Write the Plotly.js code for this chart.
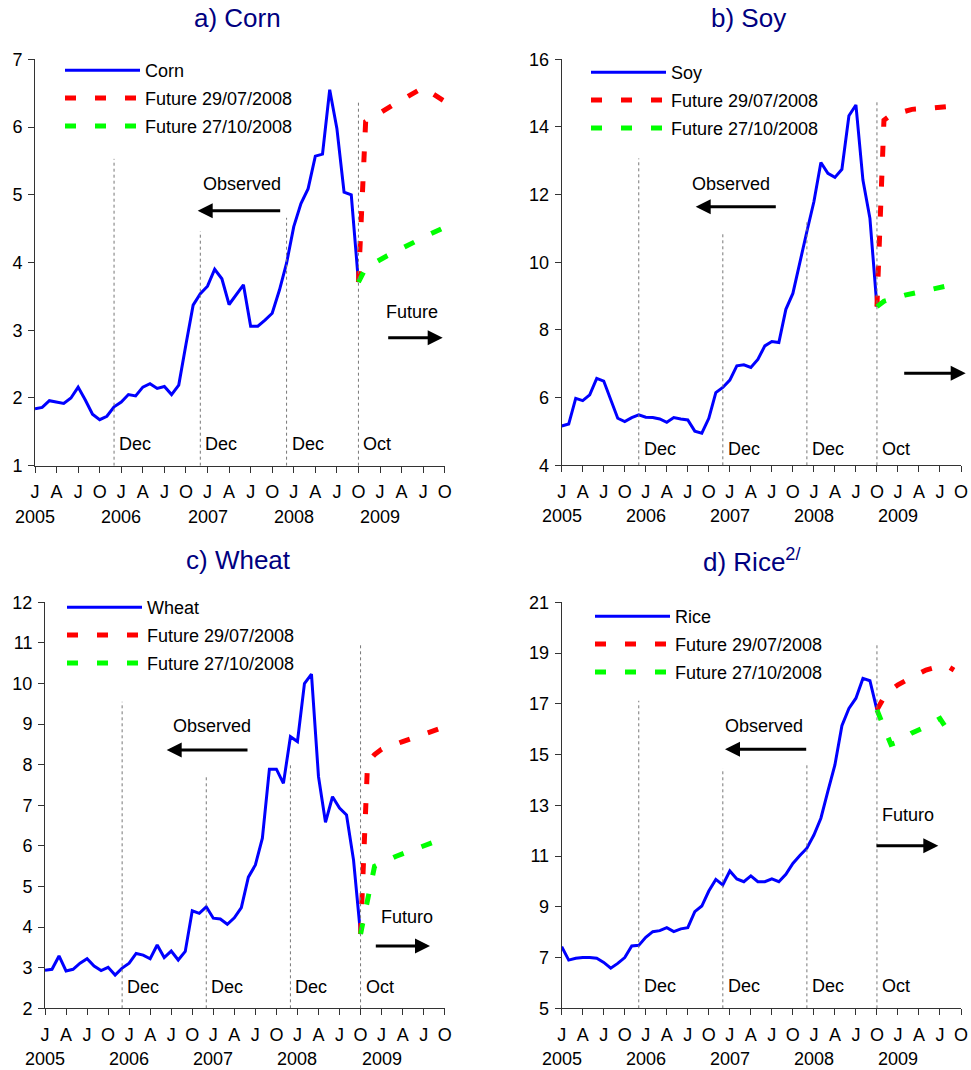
<!DOCTYPE html>
<html><head><meta charset="utf-8">
<script src="https://cdn.plot.ly/plotly-3.0.1.min.js"></script>
<style>html,body{margin:0;padding:0;background:#fff}</style>
</head><body><div id="chart" style="width:971px;height:1070px"></div>
<script>
// ---------- DATA ----------
const obsMonths = ['2005-01','2005-02','2005-03','2005-04','2005-05','2005-06','2005-07','2005-08','2005-09','2005-10','2005-11','2005-12',
  '2006-01','2006-02','2006-03','2006-04','2006-05','2006-06','2006-07','2006-08','2006-09','2006-10','2006-11','2006-12',
  '2007-01','2007-02','2007-03','2007-04','2007-05','2007-06','2007-07','2007-08','2007-09','2007-10','2007-11','2007-12',
  '2008-01','2008-02','2008-03','2008-04','2008-05','2008-06','2008-07','2008-08','2008-09','2008-10'];

const cornObs = [1.84,1.86,1.96,1.94,1.92,2.00,2.16,1.97,1.76,1.68,1.73,1.87,
  1.94,2.05,2.03,2.16,2.21,2.14,2.17,2.05,2.19,2.79,3.37,3.54,
  3.65,3.90,3.76,3.38,3.52,3.67,3.06,3.06,3.15,3.25,3.59,3.99,
  4.53,4.87,5.09,5.57,5.60,6.55,5.98,5.04,5.00,3.71];
const soyObs = [5.16,5.22,5.98,5.91,6.08,6.57,6.49,5.93,5.39,5.29,5.41,5.49,
  5.42,5.41,5.37,5.27,5.41,5.37,5.34,5.01,4.95,5.39,6.15,6.30,
  6.52,6.94,6.97,6.89,7.13,7.53,7.66,7.63,8.61,9.08,10.02,10.91,
  11.79,12.95,12.63,12.51,12.75,14.33,14.65,12.43,11.30,8.69];
const wheatObs = [2.94,2.96,3.29,2.92,2.96,3.11,3.22,3.04,2.93,3.01,2.82,2.99,
  3.11,3.35,3.31,3.22,3.56,3.25,3.41,3.19,3.40,4.40,4.34,4.50,
  4.22,4.20,4.07,4.23,4.48,5.23,5.53,6.19,7.89,7.89,7.54,8.69,
  8.57,10.00,10.23,7.71,6.58,7.21,6.93,6.76,5.65,3.83];
const riceObs = [7.43,6.90,6.97,7.00,7.00,6.97,6.81,6.58,6.77,7.00,7.46,7.48,
  7.80,8.02,8.06,8.18,8.02,8.13,8.18,8.81,9.03,9.62,10.08,9.86,
  10.41,10.10,9.99,10.22,9.99,9.99,10.10,9.99,10.28,10.71,11.02,11.31,
  11.83,12.49,13.56,14.59,16.14,16.82,17.22,18.00,17.91,16.76];

// Futures (29/07/2008 = red, 27/10/2008 = green)
const cornFutJulMonths = ['2008-10','2008-11','2009-03','2009-05','2009-07','2009-10'];
const cornFutJul = [3.71,6.08,6.34,6.46,6.58,6.38];
const cornFutOctMonths = ['2008-10','2008-11','2009-02','2009-05','2009-08','2009-10'];
const cornFutOct = [3.71,3.92,4.10,4.27,4.42,4.52];

const soyFutJulMonths = ['2008-10','2008-11','2008-12','2009-03','2009-06','2009-08','2009-09'];
const soyFutJul = [8.69,14.20,14.35,14.52,14.56,14.60,14.45];
const soyFutOctMonths = ['2008-10','2008-11','2009-02','2009-05','2009-08'];
const soyFutOct = [8.69,8.85,9.03,9.17,9.30];

const wheatFutJulMonths = ['2008-10','2008-11','2008-12','2009-01','2009-04','2009-07','2009-10'];
const wheatFutJul = [3.83,8.05,8.25,8.38,8.57,8.74,8.93];
const wheatFutOctMonths = ['2008-10','2008-11','2008-12','2009-03','2009-06','2009-09'];
const wheatFutOct = [3.83,4.70,5.50,5.74,5.94,6.13];

const riceFutJulMonths = ['2008-10','2008-11','2008-12','2009-01','2009-03','2009-05','2009-07','2009-08','2009-09'];
const riceFutJul = [16.76,17.25,17.55,17.75,18.05,18.33,18.48,18.50,18.33];
const riceFutOctMonths = ['2008-10','2008-11','2008-12','2009-01','2009-03','2009-05','2009-07','2009-08'];
const riceFutOct = [16.76,16.10,15.40,15.50,15.85,16.10,16.42,16.00];

// Axis ticks
const tickMonths = ['2005-01','2005-04','2005-07','2005-10','2006-01','2006-04','2006-07','2006-10',
  '2007-01','2007-04','2007-07','2007-10','2008-01','2008-04','2008-07','2008-10',
  '2009-01','2009-04','2009-07','2009-10'];
const tickLabels = ['J','A','J','O','J','A','J','O','J','A','J','O','J','A','J','O','J','A','J','O'];
const yearLabels = ['2005','2006','2007','2008','2009'];
const yearMonths = ['2005-01','2006-01','2007-01','2008-01','2009-01'];

// Reference lines
const refLineMonths = ['2005-12','2006-12','2007-12','2008-10'];
const refLineLabels = ['Dec','Dec','Dec','Oct'];

const titles = ['a) Corn','b) Soy','c) Wheat','d) Rice<sup>2/</sup>'];
const seriesNames = ['Corn','Soy','Wheat','Rice'];
const futJulName = 'Future 29/07/2008';
const futOctName = 'Future 27/10/2008';

// ---------- HELPERS ----------
const W = 971, H = 1070;
const FONT = 'Liberation Sans, Arial, sans-serif';
function mIdx(s){ const [y,m] = s.split('-').map(Number); return (y-2005)*12 + (m-1); }
const px = x => x / W;
const py = y => 1 - y / H;

const panels = [
  {obs: cornObs, jm: cornFutJulMonths, jv: cornFutJul, om: cornFutOctMonths, ov: cornFutOct,
   xpx:[35,444.7], ypx:[59.3,465.7], yr:[1,7], dt:1, tops:[5.53,4.46,4.66,6.40], decShift:22,
   legend:[60,52], titlePos:[237,18],
   obsText:[242,184], obsArrow:[197.7,210.7,281.7], futText:['Future',411.5,311.7], futArrow:[442.7,337.7,386.7]},
  {obs: soyObs, jm: soyFutJulMonths, jv: soyFutJul, om: soyFutOctMonths, ov: soyFutOct,
   xpx:[561.7,961], ypx:[59.3,465.3], yr:[4,16], dt:2, tops:[13.07,10.91,11.25,14.75], decShift:16,
   legend:[586,54], titlePos:[748,18],
   obsText:[730.5,184], obsArrow:[695.7,206.7,777.3], futText:null, futArrow:[965.7,373.3,902.7]},
  {obs: wheatObs, jm: wheatFutJulMonths, jv: wheatFutJul, om: wheatFutOctMonths, ov: wheatFutOct,
   xpx:[45,444.7], ypx:[602.3,1008.3], yr:[2,12], dt:1, tops:[9.55,7.75,8.03,11.0], decShift:21,
   legend:[62,589], titlePos:[238,560],
   obsText:[212,725.7], obsArrow:[166.7,750,249], futText:['Futuro',406.5,916.7], futArrow:[430,946,374.3]},
  {obs: riceObs, jm: riceFutJulMonths, jv: riceFutJul, om: riceFutOctMonths, ov: riceFutOct,
   xpx:[561.7,961], ypx:[602.3,1008.3], yr:[5,21], dt:2, tops:[17.12,14.46,14.66,19.32], decShift:22,
   legend:[590,598], titlePos:[752,560],
   obsText:[764,725.7], obsArrow:[725,749.3,807.7], futText:['Futuro',908,815], futArrow:[938.3,845.7,875]}
];

const obsX = obsMonths.map(mIdx);
const traces = [], shapes = [], annotations = [];
const layout = {
  width: W, height: H, margin:{l:0,r:0,t:0,b:0},
  paper_bgcolor:'#fff', plot_bgcolor:'rgba(0,0,0,0)',
  font:{family:FONT, size:18, color:'#000'},
  shapes, annotations
};

panels.forEach((p, i) => {
  const n = i === 0 ? '' : String(i+1);
  const xa = 'x' + n, ya = 'y' + n;
  const lg = i === 0 ? 'legend' : 'legend' + (i+1);
  traces.push({type:'scatter', mode:'lines', x: obsX, y: p.obs, name: seriesNames[i],
    xaxis: xa, yaxis: ya, legend: lg, legendgroup:'a'+i,
    line:{color:'#0000ff', width:3}});
  traces.push({type:'scatter', mode:'lines', x: p.jm.map(mIdx), y: p.jv, name: futJulName,
    xaxis: xa, yaxis: ya, legend: lg, legendgroup:'b'+i,
    line:{color:'#ff0000', width:5, dash:'11px,19px'}});
  traces.push({type:'scatter', mode:'lines', x: p.om.map(mIdx), y: p.ov, name: futOctName,
    xaxis: xa, yaxis: ya, legend: lg, legendgroup:'c'+i,
    line:{color:'#00ff00', width:5, dash:'11px,19px'}});

  layout['xaxis' + n] = {
    domain:[px(p.xpx[0]), px(p.xpx[1])], anchor: ya, range:[0,57],
    tickmode:'array', tickvals: tickMonths.map(mIdx), ticktext: tickLabels,
    ticks:'outside', ticklen:6, tickcolor:'#333', tickwidth:1, ticklabelstandoff:4,
    showline:true, linecolor:'#333', linewidth:1, showgrid:false, zeroline:false,
    tickfont:{size:18, family:FONT, color:'#000'}, fixedrange:true
  };
  layout['yaxis' + n] = {
    domain:[py(p.ypx[1]), py(p.ypx[0])], anchor: xa, range: p.yr, dtick: p.dt, tick0: p.yr[0],
    ticks:'outside', ticklen:6, tickcolor:'#333', tickwidth:1, ticklabelstandoff:2,
    showline:true, linecolor:'#333', linewidth:1, showgrid:false, zeroline:false,
    tickfont:{size:18, family:FONT, color:'#000'}, fixedrange:true
  };
  layout[lg] = {
    x: px(p.legend[0]), y: py(p.legend[1]), xanchor:'left', yanchor:'top',
    bgcolor:'rgba(0,0,0,0)', borderwidth:0, itemwidth:75,
    traceorder:'grouped', tracegroupgap:1.5,
    font:{size:18, family:FONT, color:'#000'}
  };

  // reference lines and their labels
  refLineMonths.forEach((m, k) => {
    shapes.push({type:'line', xref: xa, yref: ya, x0: mIdx(m), x1: mIdx(m), y0: p.yr[0], y1: p.tops[k],
      line:{color:'#777', width:1, dash:'dot'}});
    annotations.push({xref: xa, yref: ya + ' domain', x: mIdx(m), y: 0, xanchor:'left', yanchor:'middle',
      xshift: 3, yshift: p.decShift, text: refLineLabels[k], showarrow:false,
      font:{size:18, family:FONT, color:'#000'}});
  });
  // year labels
  yearMonths.forEach((m, k) => {
    annotations.push({xref: xa, yref: ya + ' domain', x: mIdx(m), y: 0, xanchor:'center', yanchor:'middle',
      yshift: -51, text: yearLabels[k], showarrow:false, font:{size:18, family:FONT, color:'#000'}});
  });
  // title
  annotations.push({xref:'paper', yref:'paper', x: px(p.titlePos[0]), y: py(p.titlePos[1]),
    xanchor:'center', yanchor:'middle', text: titles[i], showarrow:false,
    font:{size:26, family:FONT, color:'#000080'}});
  // Observed text + arrow
  annotations.push({xref:'paper', yref:'paper', x: px(p.obsText[0]), y: py(p.obsText[1]),
    xanchor:'center', yanchor:'middle', text:'Observed', showarrow:false,
    font:{size:18, family:FONT, color:'#000'}});
  annotations.push({xref:'paper', yref:'paper', x: px(p.obsArrow[0]), y: py(p.obsArrow[1]),
    ax: p.obsArrow[2] - p.obsArrow[0], ay: 0, text:'', showarrow:true,
    arrowhead:2, arrowsize:1, arrowwidth:3, arrowcolor:'#000', standoff:0});
  if (p.futText) {
    annotations.push({xref:'paper', yref:'paper', x: px(p.futText[1]), y: py(p.futText[2]),
      xanchor:'center', yanchor:'middle', text: p.futText[0], showarrow:false,
      font:{size:18, family:FONT, color:'#000'}});
  }
  annotations.push({xref:'paper', yref:'paper', x: px(p.futArrow[0]), y: py(p.futArrow[1]),
    ax: p.futArrow[2] - p.futArrow[0], ay: 0, text:'', showarrow:true,
    arrowhead:2, arrowsize:1, arrowwidth:3, arrowcolor:'#000', standoff:0});
});

Plotly.newPlot('chart', traces, layout, {displayModeBar:false, staticPlot:true});
</script>
</body></html>
